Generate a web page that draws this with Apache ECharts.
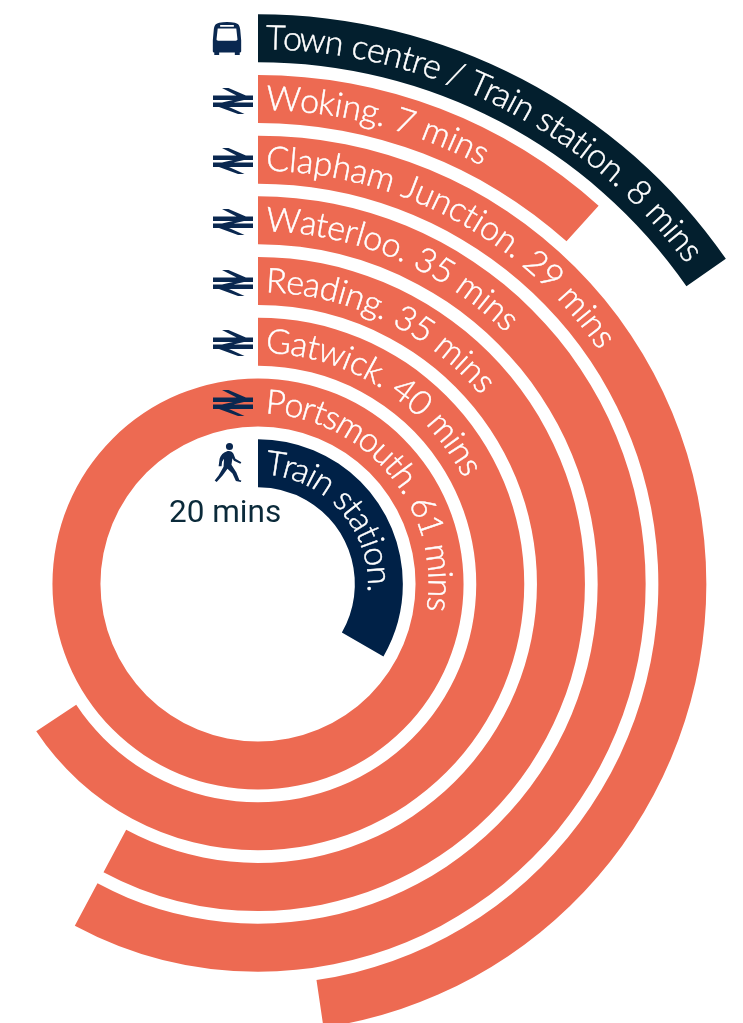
<!DOCTYPE html>
<html><head><meta charset="utf-8">
<style>html,body{margin:0;padding:0;background:#fff}#c{width:743px;height:1023px}</style>
<script src="https://cdn.jsdelivr.net/npm/echarts@6/dist/echarts.min.js"></script>
</head><body><div id="c"></div>
<script>
const destinations = ['Train station.','Portsmouth. 61 mins','Gatwick. 40 mins','Reading. 35 mins','Waterloo. 35 mins','Clapham Junction. 29 mins','Woking. 7 mins','Town centre / Train station. 8 mins'];
const minutes = [20, 61, 39.4, 34.7, 34.7, 28.6, 7, 9.2];
const barColors = ['#002147','#ED6A52','#ED6A52','#ED6A52','#ED6A52','#ED6A52','#ED6A52','#031F2E'];
const FONT_SIZE = 34, FONT_WEIGHT = 300, FONT = 'Lato';
const tracking = [1.02, 1.0, 1.02, 1.02, 1.02, 1.02, 1.02, 0.985];
const CX = 258, CY = 584, BAND = 60.7, R0 = 90.5;

const TRAIN = 'M9 0H15.5L34 8H24.5ZM0 7.5H40V12H0ZM20 12H31L20.5 14.5H9ZM0 14.5H40V19H0ZM6 19H16L31.5 26H25Z';
const BUS = 'M7 1C3 2 2 4 1.5 8L0.5 19V30C0.5 31 1 31.5 2 31.5V34H7V31.5H23V34H28V31.5C29 31.5 29.5 31 29.5 30V19L28.5 8C28 4 27 2 23 1C18 0 12 0 7 1ZM8 3.4H22V5H8ZM5.5 7H24.5L25.7 18C25.7 19 25 19.5 24 19.5H6C5 19.5 4.3 19 4.3 18ZM6.5 22.5A2.5 2.5 0 1 0 6.5 27.5A2.5 2.5 0 1 0 6.5 22.5ZM23.5 22.5A2.5 2.5 0 1 0 23.5 27.5A2.5 2.5 0 1 0 23.5 22.5Z';
const WALK = 'M15 0A3.6 3.6 0 1 1 15 7.2A3.6 3.6 0 1 1 15 0ZM12 8.5C15 7.5 18 8.5 19 11L21 16L27 19.5L26 21L19.5 18L18 15.5L17 22L22 30L25 37.5L27 38L26.5 39.5L21.5 38.5L18 31L13 26L8 33L2 39.5L0 38L4 33L9 24L9.5 16L7.5 19L7 23.5L4 23.5L5 16C6 12 9 9.5 12 8.5Z';
const icons = [
  {d:BUS, x:212, y:22, w:30, h:33},
  {d:TRAIN, x:213, y:88, w:40, h:26},
  {d:TRAIN, x:213, y:148, w:40, h:26},
  {d:TRAIN, x:213, y:209, w:40, h:26},
  {d:TRAIN, x:213, y:270, w:40, h:26},
  {d:TRAIN, x:213, y:330, w:40, h:26},
  {d:TRAIN, x:213, y:390, w:40, h:26},
  {d:WALK, x:213, y:443, w:30, h:39}
];

const FONT_CSS = FONT_WEIGHT + ' ' + FONT_SIZE + 'px ' + FONT;
const measure = document.createElement('canvas').getContext('2d');
measure.font = FONT_CSS;

function renderLabel(params, api) {
  const i = api.value(0), text = destinations[i];
  const mid = api.coord([i, 0]);
  const rb = CY - mid[1];
  const children = [];
  for (let k = 0; k < text.length; k++) {
    const a = measure.measureText(text.slice(0, k)).width;
    const b = measure.measureText(text.slice(0, k + 1)).width;
    const dist = 8 + tracking[i] * (a + b) / 2;
    const ang = dist / rb;
    const p = api.coord([i, ang / (2 * Math.PI) * 60]);
    children.push({type:'text', x:p[0], y:p[1], rotation:-ang, silent:true,
      style:{text:text[k], fill:'#fff', stroke:'#fff', lineWidth:0.45, font:FONT_CSS, textAlign:'center', textVerticalAlign:'middle'}});
  }
  return {type:'group', children};
}
function renderIcon(params, api) {
  const c = icons[params.dataIndex];
  return {type:'path', shape:{pathData:c.d, x:c.x, y:c.y, width:c.w, height:c.h}, style:{fill:'#0A2850'}};
}

const chart = echarts.init(document.getElementById('c'), null, {renderer:'canvas'});
chart.setOption({
  animation:false,
  polar:{center:[CX,CY], radius:[R0, R0 + BAND * destinations.length]},
  angleAxis:{min:0,max:60,startAngle:90,show:false},
  radiusAxis:{type:'category',data:destinations,show:false},
  series:[
    {type:'bar',coordinateSystem:'polar',barWidth:48,clip:false,silent:true,
     data:minutes.map((v,i)=>({value:v,itemStyle:{color:barColors[i]}}))},
    {type:'custom',coordinateSystem:'polar',clip:false,silent:true,z:5,
     data:destinations.map((d,i)=>[i,minutes[i]]),encode:{radius:0,angle:1},renderItem:renderLabel},
    {type:'custom',coordinateSystem:'none',silent:true,z:10,
     data:icons.map((c,i)=>[i]),renderItem:renderIcon}
  ],
  graphic:[{type:'text',z:10,x:169,y:514,style:{text:'20 mins',font:'31.5px Roboto',fill:'#0B2A3A',textVerticalAlign:'middle'}}]
});
</script></body></html>
